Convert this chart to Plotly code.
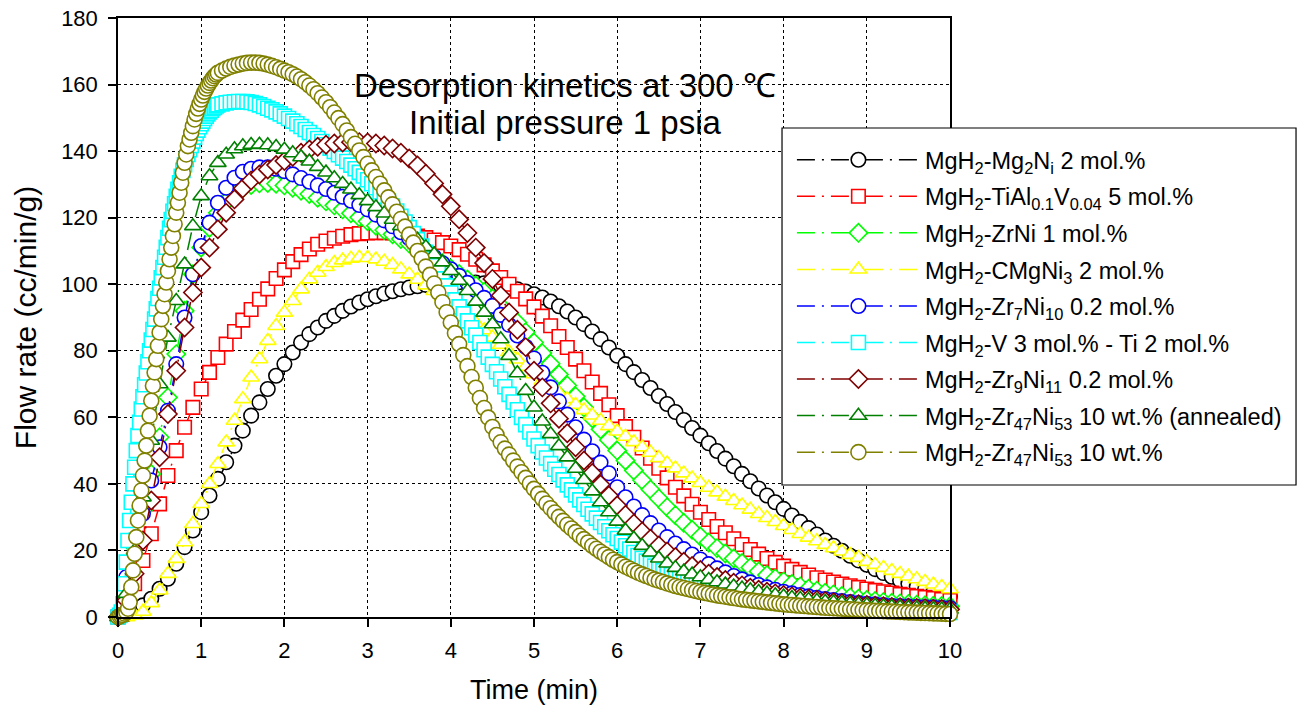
import numpy as np
import plotly.graph_objects as go

# sampling times (min): most runs every 0.1 min, the two fast runs logged denser
t_std = np.round(np.arange(0, 10.0001, 0.1), 2)
t_dense = np.round(np.concatenate([np.arange(0, 1.2001, 0.02), np.arange(1.25, 10.0001, 0.05)]), 2)

# flow rate (cc/min/g)
mg2ni = [0, 0.8, 2, 3.5, 5.5, 8.5, 11.5, 16, 21, 26,
         31.5, 36.5, 41.5, 46.5, 51.5, 56, 60.5, 64.5, 68.5, 72.5,
         76, 79.5, 82.5, 85, 87, 89, 90.5, 92, 93.3, 94.5,
         95.5, 96.4, 97.2, 97.9, 98.5, 99, 99.4, 99.8, 100.1, 100.3,
         100.5, 100.6, 100.6, 100.5, 100.3, 100, 99.6, 99.1, 98.5, 97.8,
         97, 96, 94.8, 93.4, 91.8, 90, 88, 85.8, 83.5, 81,
         78.5, 76, 73.6, 71.2, 68.8, 66.4, 64, 61.6, 59.2, 56.8,
         54.5, 52.2, 49.9, 47.6, 45.3, 43, 40.8, 38.6, 36.5, 34.5,
         32.5, 30.5, 28.6, 26.7, 24.8, 23, 21.4, 19.9, 18.4, 17,
         15.7, 14.4, 13.2, 12.1, 11, 10, 9.1, 8.3, 7.5, 6.8,
         6.2]

tialv = [0, 4, 10, 17, 25, 34, 42.5, 50, 57, 63,
         68.5, 73.5, 78, 82, 85.8, 89.2, 92.4, 95.5, 98.6, 101.7,
         104.3, 106.8, 108.9, 110.6, 112, 113, 113.8, 114.4, 114.9, 115.2,
         115.4, 115.5, 115.5, 115.4, 115.2, 114.9, 114.5, 114, 113.3, 112.5,
         111.5, 110.4, 109, 107.5, 105.8, 104, 102, 100, 97.9, 95.6,
         93.2, 90.4, 87.5, 84.3, 81, 77.5, 74, 70.6, 67.2, 63.8,
         60.5, 57.2, 54, 50.8, 47.7, 44.7, 41.8, 39, 36.4, 33.9,
         31.5, 29.3, 27.2, 25.3, 23.5, 21.8, 20.3, 18.9, 17.6, 16.4,
         15.3, 14.3, 13.4, 12.6, 11.8, 11.1, 10.5, 9.9, 9.4, 8.9,
         8.4, 8, 7.6, 7.2, 6.8, 6.5, 6.2, 5.9, 5.6, 5.3,
         5]

zrni = [0, 10, 21, 32, 43, 54, 66, 79, 92, 103,
        111, 117, 121.5, 124.8, 127.2, 128.8, 129.8, 130.3, 130.4, 130.2,
        129.7, 129, 128.1, 127.1, 126, 124.9, 123.7, 122.5, 121.3, 120.1,
        118.9, 117.6, 116.3, 115, 113.6, 112.2, 110.8, 109.3, 107.8, 106.3,
        104.7, 103.1, 101.4, 99.6, 97.7, 95.7, 93.5, 91.1, 88.5, 85.6,
        82.5, 79.3, 76.1, 72.9, 69.6, 66.3, 63, 59.7, 56.4, 53.2,
        50, 47, 44, 41.1, 38.3, 35.6, 33, 30.6, 28.3, 26.2,
        24.2, 22.4, 20.7, 19.1, 17.6, 16.2, 14.9, 13.7, 12.6, 11.6,
        10.7, 9.9, 9.2, 8.5, 7.9, 7.3, 6.8, 6.3, 5.9, 5.5,
        5.1, 4.8, 4.5, 4.3, 4.1, 3.9, 3.7, 3.5, 3.4, 3.3,
        3.2]

cmgni3 = [0, 0, 0.5, 1.6, 4.2, 8, 13, 17.5, 22.5, 28,
          34, 40, 46, 52.5, 59, 65.5, 72, 77.5, 83, 87.5,
          91.5, 95, 98.5, 101.5, 103.5, 105.2, 106.4, 107.2, 107.7, 108,
          107.9, 107.5, 106.8, 105.8, 104.5, 103, 101.4, 99.7, 98, 96.2,
          94.3, 92.3, 90.3, 88.3, 86.2, 84, 81.8, 79.6, 77.4, 75.2,
          73, 71, 69, 67.2, 65.5, 63.8, 62.2, 60.6, 59, 57.4,
          55.8, 54.2, 52.6, 51, 49.4, 47.8, 46.2, 44.7, 43.2, 41.7,
          40.3, 38.9, 37.5, 36.2, 34.9, 33.6, 32.3, 31, 29.8, 28.6,
          27.4, 26.2, 25, 23.9, 22.8, 21.7, 20.7, 19.7, 18.7, 17.8,
          16.6, 15.7, 14.8, 13.9, 13, 12.2, 11.4, 10.6, 9.8, 9.1,
          8.4]

zr7ni10 = [0, 12, 21, 31, 41, 51, 62, 76, 90, 103,
           111.5, 118.5, 124.5, 129, 132, 133.8, 134.7, 135.1, 135.1, 134.7,
           134, 133, 131.9, 130.8, 129.7, 128.6, 127.5, 126.3, 125.1, 123.8,
           122.5, 120.9, 119.2, 117.4, 115.6, 113.8, 112, 110.1, 108.2, 106.3,
           104.5, 102.5, 100.4, 98.2, 95.9, 93.5, 90.8, 87.8, 84.6, 81.2,
           77.7, 73.4, 69, 64.8, 60.8, 57, 53.3, 49.8, 46.4, 43.2,
           39, 36, 33.2, 30.6, 28.2, 26, 24, 22.1, 20.4, 18.8,
           17.3, 15.9, 14.6, 13.4, 12.3, 11.3, 10.4, 9.6, 8.9, 8.2,
           7.6, 7.1, 6.6, 6.2, 5.8, 5.4, 5.1, 4.8, 4.5, 4.2,
           4, 3.8, 3.6, 3.4, 3.3, 3.2, 3.1, 3, 2.9, 2.8,
           2.7]

v3ti2 = [0, 0.5, 1.5, 4, 10, 16.5, 23, 29, 34.5, 40,
         45, 50, 54.5, 58.5, 62.5, 66.2, 69.8, 73.3, 76.7, 80,
         83.2, 86.4, 89.5, 92.6, 95.7, 98.8, 101.9, 105, 108.1, 111.1,
         114, 116.8, 119.4, 121.9, 124.2, 126.4, 128.5, 130.5, 132.4, 134.2,
         135.9, 137.5, 139, 140.4, 141.7, 143, 144.2, 145.3, 146.3, 147.3,
         148.2, 149, 149.8, 150.5, 151.2, 151.8, 152.3, 152.8, 153.2, 153.6,
         153.9,
         154.2, 154.5, 154.7, 154.8, 154.9, 154.9, 154.8, 154.6, 154.3, 153.9,
         153.4, 152.9, 152.4, 151.8, 151.2, 150.5, 149.8, 149, 148.2, 147.4,
         146.5, 145.6, 144.7, 143.8, 142.9, 141.9, 140.9, 139.9, 138.9, 137.9,
         136.9, 135.8, 134.7, 133.6, 132.5, 131.4, 130.2, 129, 127.7, 126.4,
         125, 123.5, 122, 120.4, 118.7, 117, 115.2, 113.4, 111.5, 109.6,
         107.6, 105.6, 103.6, 101.6, 99.5, 97.4, 95.3, 93.2, 91.1, 89,
         86.9, 84.7, 82.5, 80.3, 78.1, 75.9, 73.7, 71.5, 69.2, 66.9,
         64.6, 62.3, 60, 57.8, 55.6, 53.5, 51.5, 49.6, 47.8, 46.1,
         44.4, 42.8, 41.2, 39.7, 38.2, 36.7, 35.2, 33.8, 32.4, 31,
         29.7, 28.4, 27.1, 25.9, 24.7, 23.6, 22.5, 21.4, 20.4, 19.4,
         18.5, 17.6, 16.8, 16, 15.3, 14.6, 13.9, 13.3, 12.7, 12.1,
         11.6, 11.1, 10.6, 10.1, 9.7, 9.3, 8.9, 8.5, 8.2, 7.9,
         7.6, 7.3, 7, 6.75, 6.5, 6.25, 6, 5.8, 5.6, 5.4,
         5.2, 5, 4.85, 4.7, 4.55, 4.4, 4.27, 4.14, 4.01, 3.88,
         3.76, 3.64, 3.52, 3.41, 3.3, 3.2, 3.1, 3, 2.91, 2.82,
         2.74, 2.66, 2.58, 2.5, 2.43, 2.36, 2.3, 2.24, 2.18, 2.12,
         2.06, 2, 1.95, 1.9, 1.85, 1.8, 1.76, 1.72, 1.68, 1.64,
         1.6, 1.56, 1.52, 1.48, 1.44, 1.4]

zr9ni11 = [0, 5, 13, 23, 35, 48, 61, 74, 87, 97.5,
           105, 111, 116.5, 121.5, 125.5, 128.8, 131.2, 133, 134.5, 135.8,
           137, 138.3, 139.5, 140.5, 141.3, 141.9, 142.3, 142.6, 142.7, 142.7,
           142.6, 142.3, 141.7, 140.8, 139.5, 137.8, 135.7, 133.2, 130.3, 127,
           123.4, 119.5, 115.4, 111, 106.4, 101.6, 96.6, 91.5, 86.3, 81.1,
           74, 69, 64.2, 59.6, 55.2, 51, 47, 43.3, 39.8, 36.5,
           33.5, 30.7, 28.1, 25.7, 23.5, 21.5, 19.7, 18, 16.6, 15.3,
           14.1, 13, 12, 11.1, 10.3, 9.5, 8.8, 8.2, 7.6, 7.1,
           6.6, 6.2, 5.8, 5.4, 5.1, 4.8, 4.5, 4.2, 4, 3.8,
           3.6, 3.4, 3.2, 3, 2.9, 2.8, 2.7, 2.6, 2.5, 2.4,
           2.3]

zr47ni53_ann = [0, 7, 20, 36, 53, 70, 84, 95, 106, 117.5,
                126.5, 132.5, 136.5, 139, 140.6, 141.5, 141.9, 142, 141.8, 141.3,
                140.5, 139.4, 138.2, 136.9, 135.3, 133.6, 131.9, 130.2, 128.5, 126.8,
                125, 123.2, 121.3, 119.4, 117.5, 115.5, 113.4, 111.2, 109, 106.6,
                104, 101.1, 98, 94.8, 91.5, 88, 83.5, 78.5, 73.3, 68,
                63, 58.8, 55, 51.4, 48, 44.6, 41.2, 37.8, 34.5, 31.5,
                28.7, 26, 23.6, 21.4, 19.4, 17.6, 16.1, 14.8, 13.7, 12.8,
                12, 11.2, 10.5, 9.8, 9.2, 8.6, 8.1, 7.6, 7.1, 6.6,
                6.2, 5.8, 5.5, 5.2, 4.9, 4.6, 4.4, 4.2, 4, 3.8,
                3.6, 3.4, 3.2, 3.05, 2.9, 2.75, 2.6, 2.5, 2.4, 2.3,
                2.2]

zr47ni53 = [0, 0.2, 0.4, 0.6, 1.0, 1.5, 2.5, 4.5, 9, 14,
            19, 24, 29, 33.5, 38, 42.5, 47, 51.5, 56, 60.5,
            65, 69.5, 73.5, 77.5, 81.5, 85.5, 89.5, 93.5, 97, 100.5,
            104, 107.5, 111, 114.5, 118, 121.5, 124.5, 127.5, 130.5, 133.5,
            136.5, 139, 141.5, 143.5, 145.5, 147.5, 149.5, 151.2, 152.8, 154.2,
            155.5, 156.7, 157.8, 158.8, 159.7, 160.5, 161.2, 161.9, 162.5, 163,
            163.5,
            164.2, 164.8, 165.3, 165.7, 166, 166.3, 166.5, 166.6, 166.6, 166.5,
            166.3, 166, 165.6, 165.2, 164.7, 164.2, 163.7, 163.1, 162.4, 161.6,
            160.7, 159.7, 158.6, 157.4, 156.1, 154.7, 153.2, 151.6, 149.9, 148.1,
            146.2, 144.2, 142.2, 140.2, 138.2, 136.2, 134.2, 132.2, 130.2, 128.2,
            126.1, 124, 121.8, 119.6, 117.3, 114.9, 112.5, 110, 107.7, 105.3,
            102.8, 100.2, 97.5, 94.6, 91.6, 88.5, 85.3, 82, 78.7, 75.4,
            72.1, 68.9, 65.8, 62.8, 59.9, 57.1, 54.7, 52.5, 50.6, 48.8,
            47, 45.2, 43.5, 41.8, 40.1, 38.5, 37, 35.5, 34.1, 32.7,
            31.4, 30.1, 28.9, 27.7, 26.6, 25.5, 24.4, 23.4, 22.4, 21.4,
            20.5, 19.6, 18.8, 18, 17.2, 16.5, 15.8, 15.1, 14.5, 13.9,
            13.3, 12.8, 12.3, 11.8, 11.3, 10.9, 10.5, 10.1, 9.7, 9.3,
            9, 8.7, 8.4, 8.1, 7.8, 7.5, 7.25, 7, 6.75, 6.5,
            6.3, 6.1, 5.9, 5.7, 5.5, 5.3, 5.15, 5, 4.85, 4.7,
            4.55, 4.4, 4.25, 4.1, 3.95, 3.8, 3.7, 3.6, 3.5, 3.4,
            3.3, 3.2, 3.1, 3, 2.9, 2.8, 2.72, 2.64, 2.56, 2.48,
            2.4, 2.32, 2.24, 2.16, 2.08, 2, 1.94, 1.88, 1.82, 1.76,
            1.7, 1.64, 1.58, 1.52, 1.46, 1.4, 1.35, 1.3, 1.25, 1.2,
            1.15, 1.1, 1.05, 1, 0.95, 0.9]

labels = [
    "MgH<sub>2</sub>-Mg<sub>2</sub>N<sub>i</sub> 2 mol.%",
    "MgH<sub>2</sub>-TiAl<sub>0.1</sub>V<sub>0.04</sub> 5 mol.%",
    "MgH<sub>2</sub>-ZrNi 1 mol.%",
    "MgH<sub>2</sub>-CMgNi<sub>3</sub> 2 mol.%",
    "MgH<sub>2</sub>-Zr<sub>7</sub>Ni<sub>10</sub> 0.2 mol.%",
    "MgH<sub>2</sub>-V 3 mol.% - Ti 2 mol.%",
    "MgH<sub>2</sub>-Zr<sub>9</sub>Ni<sub>11</sub> 0.2 mol.%",
    "MgH<sub>2</sub>-Zr<sub>47</sub>Ni<sub>53</sub> 10 wt.% (annealed)",
    "MgH<sub>2</sub>-Zr<sub>47</sub>Ni<sub>53</sub> 10 wt.%",
]

series = [
    (t_std, mg2ni, "#000000", "circle", 14.5),
    (t_std, tialv, "#ff0000", "square", 13.5),
    (t_std, zrni, "#00ff00", "diamond", 14),
    (t_std, cmgni3, "#ffff00", "triangle-up", 14.5),
    (t_std, zr7ni10, "#0000ff", "circle", 14.5),
    (t_dense, v3ti2, "#00ffff", "square", 14),
    (t_std, zr9ni11, "#800000", "diamond", 14),
    (t_std, zr47ni53_ann, "#008000", "triangle-up", 14.5),
    (t_dense, zr47ni53, "#808000", "circle", 15),
]

FONT = "Liberation Sans, Arial, sans-serif"

fig = go.Figure()
for name, (t, y, color, symbol, size) in zip(labels, series):
    fig.add_trace(go.Scatter(
        x=t, y=y, name=name, mode="lines+markers", legendgroup=name,
        line=dict(color=color, width=1.5, dash="18px,7px,2px,7px"),
        marker=dict(symbol=symbol, size=size, color="white",
                    line=dict(color=color, width=1.6)),
        cliponaxis=False,
    ))

fig.add_annotation(x=5.37, y=159.6, text="Desorption kinetics at 300 ℃", showarrow=False,
                   xanchor="center", yanchor="middle", font=dict(family=FONT, size=33, color="black"))
fig.add_annotation(x=5.37, y=148.6, text="Initial pressure 1 psia", showarrow=False,
                   xanchor="center", yanchor="middle", font=dict(family=FONT, size=33, color="black"))

# legend frame (white box over the grid), the legend itself sits inside it
fig.add_shape(type="rect", xref="paper", yref="paper", layer="above",
              x0=0.7981, x1=1.4159, y0=0.2204, y1=0.8164,
              line=dict(color="black", width=1.2), fillcolor="white")

axis_common = dict(
    showline=True, linecolor="black", linewidth=1.5, mirror=True,
    ticks="outside", ticklen=8, tickwidth=1.5, tickcolor="black",
    showgrid=True, gridcolor="black", gridwidth=1, griddash="dot",
    zeroline=False, automargin=False,
    tickfont=dict(family=FONT, size=22, color="black"),
)

fig.update_xaxes(range=[0, 10], dtick=1, tick0=0, ticklabelstandoff=5,
                 title=dict(text="Time (min)", font=dict(family=FONT, size=27, color="black"), standoff=18),
                 **axis_common)
fig.update_yaxes(range=[0, 180], dtick=20, tick0=0, ticklabelstandoff=6,
                 title=dict(text="Flow rate (cc/min/g)", font=dict(family=FONT, size=30, color="black"), standoff=16),
                 **axis_common)

fig.update_layout(
    width=1301, height=716, autosize=False,
    margin=dict(l=118, r=351, t=18, b=99, pad=0),
    paper_bgcolor="white", plot_bgcolor="white",
    font=dict(family=FONT, color="black"),
    showlegend=True,
    legend=dict(x=0.810, y=0.7997, xanchor="left", yanchor="top",
                bgcolor="rgba(0,0,0,0)", borderwidth=0,
                font=dict(family=FONT, size=23.5, color="black"),
                itemwidth=123, traceorder="grouped", tracegroupgap=3),
)

fig.write_html("out.html", config={"displayModeBar": False},
               post_script="document.body.style.margin='0';")
